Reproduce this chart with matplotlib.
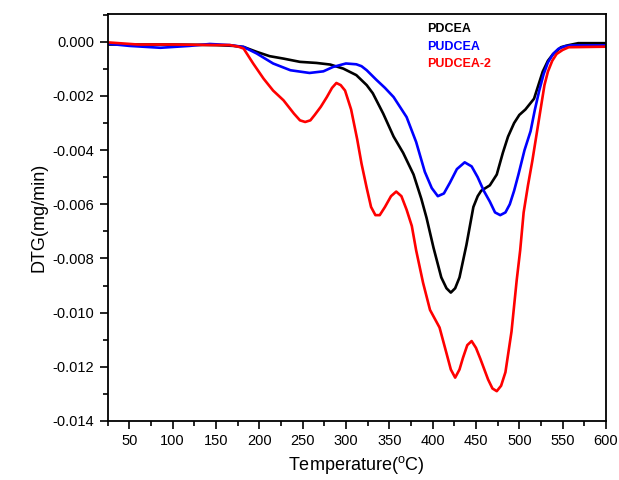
import matplotlib
matplotlib.use('Agg')
import matplotlib.pyplot as plt
from matplotlib.ticker import MultipleLocator, FormatStrFormatter

plt.rcParams['font.family'] = ['Liberation Sans', 'DejaVu Sans']
plt.rcParams['mathtext.fontset'] = 'custom'
plt.rcParams['mathtext.rm'] = 'Liberation Sans'
plt.rcParams['axes.unicode_minus'] = False

# PDCEA (black)
t_pdcea = [25, 50, 100, 150, 170, 182, 197, 212, 228, 247, 266, 282, 297, 312, 324,
           331, 343, 355, 366, 378, 387, 393, 401, 410, 416, 421, 426, 431, 439, 447,
           452, 456, 466, 474, 481, 487, 494, 500, 507, 517, 522, 527, 533, 539, 548,
           556, 568, 600]
v_pdcea = [-0.0001, -0.0001, -0.0001, -0.00012, -0.00015, -0.00019, -0.00037,
           -0.00053, -0.00062, -0.00074, -0.00078, -0.00084, -0.00099, -0.00123,
           -0.0016, -0.0019, -0.00265, -0.0035, -0.0041, -0.0049, -0.0058, -0.0065,
           -0.0076, -0.0087, -0.0091, -0.00926, -0.0091, -0.0087, -0.0075, -0.0061,
           -0.0057, -0.0055, -0.0053, -0.0049, -0.0041, -0.0035, -0.0030, -0.0027,
           -0.0025, -0.0021, -0.0016, -0.0011, -0.0007, -0.00045, -0.0002, -0.00013,
           -0.00005, -0.00005]

# PUDCEA (blue)
t_pudcea = [25, 50, 86, 120, 143, 166, 182, 197, 216, 236, 258, 274, 285, 300, 312,
            318, 324, 335, 345, 355, 370, 381, 391, 399, 406, 413, 420, 428, 437, 445,
            452, 459, 466, 472, 478, 484, 489, 494, 499, 506, 513, 518, 523, 528, 533,
            539, 545, 553, 560, 600]
v_pudcea = [-0.00007, -0.00015, -0.00022, -0.00015, -0.00008, -0.00012, -0.00019,
            -0.00043, -0.0008, -0.00105, -0.00115, -0.00109, -0.00093, -0.0008,
            -0.00083, -0.0009, -0.00105, -0.0014, -0.0017, -0.00204, -0.00278, -0.0037,
            -0.0048, -0.0054, -0.0057, -0.0056, -0.0052, -0.0047, -0.00445, -0.0046,
            -0.0050, -0.0055, -0.0059, -0.0063, -0.0064, -0.0063, -0.0060, -0.0055,
            -0.0049, -0.0040, -0.0033, -0.0025, -0.0018, -0.0012, -0.00076, -0.00045,
            -0.00026, -0.00016, -0.00013, -0.00013]

# PUDCEA-2 (red)
t_pudcea2 = [25, 60, 100, 150, 166, 176, 182, 193, 205, 216, 228, 240, 247, 253, 259,
             264, 271, 278, 284, 289, 294, 299, 306, 313, 318, 324, 329, 334, 339, 345,
             352, 358, 364, 370, 376, 381, 389, 397, 408, 416, 421, 426, 431, 435, 440,
             445, 450, 455, 464, 469, 474, 479, 484, 491, 497, 501, 505, 510, 515, 520,
             525, 529, 533, 538, 543, 550, 557, 600]
v_pudcea2 = [-0.00002, -0.0001, -0.0001, -0.00012, -0.00012, -0.00018, -0.00025,
             -0.0008, -0.00136, -0.0018, -0.00216, -0.00265, -0.0029, -0.00296,
             -0.0029, -0.0027, -0.0024, -0.00204, -0.0017, -0.00152, -0.0016, -0.0018,
             -0.0025, -0.0036, -0.0045, -0.0054, -0.0061, -0.0064, -0.0064, -0.0061,
             -0.0057, -0.00553, -0.0057, -0.0062, -0.0068, -0.0077, -0.0089, -0.0099,
             -0.01055, -0.0115, -0.0121, -0.0124, -0.0121, -0.01167, -0.0112, -0.01105,
             -0.0113, -0.0117, -0.01247, -0.0128, -0.0129, -0.0127, -0.0122, -0.0107,
             -0.0088, -0.0077, -0.0063, -0.0053, -0.0044, -0.0034, -0.0024, -0.0016,
             -0.0011, -0.0007, -0.00045, -0.0003, -0.0002, -0.00018]

labels = ['PDCEA', 'PUDCEA', 'PUDCEA-2']
colors = ['black', '#0000ff', '#ff0000']

fig = plt.figure(figsize=(6.19, 4.8), dpi=100)
ax = fig.add_axes([0.1737, 0.123, 0.8053, 0.848])

for t, v, c in [(t_pdcea, v_pdcea, colors[0]), (t_pudcea, v_pudcea, colors[1]),
                (t_pudcea2, v_pudcea2, colors[2])]:
    ax.plot(t, v, color=c, lw=1.9, solid_joinstyle='round', solid_capstyle='round')

ax.set_xlim(25, 600)
ax.set_ylim(-0.014, 0.00103)
ax.xaxis.set_major_locator(MultipleLocator(50))
ax.xaxis.set_minor_locator(MultipleLocator(25))
ax.yaxis.set_major_locator(MultipleLocator(0.002))
ax.yaxis.set_minor_locator(MultipleLocator(0.001))
ax.yaxis.set_major_formatter(FormatStrFormatter('%.3f'))
ax.tick_params(which='major', direction='out', length=6, width=1.2, labelsize=10.5)
ax.tick_params(which='minor', direction='out', length=3.5, width=1.2)
for s in ax.spines.values():
    s.set_linewidth(1.3)

ax.set_xlabel(r'Temperature($^\mathrm{o}$C)', fontsize=13)
ax.set_ylabel('DTG(mg/min)', fontsize=13)

ys = [0.963, 0.919, 0.877]
for lab, c, y in zip(labels, colors, ys):
    ax.text(0.641, y, lab, color=c, fontsize=9, fontweight='bold',
            transform=ax.transAxes, va='center', ha='left')

fig.savefig('out.png', dpi=100)
